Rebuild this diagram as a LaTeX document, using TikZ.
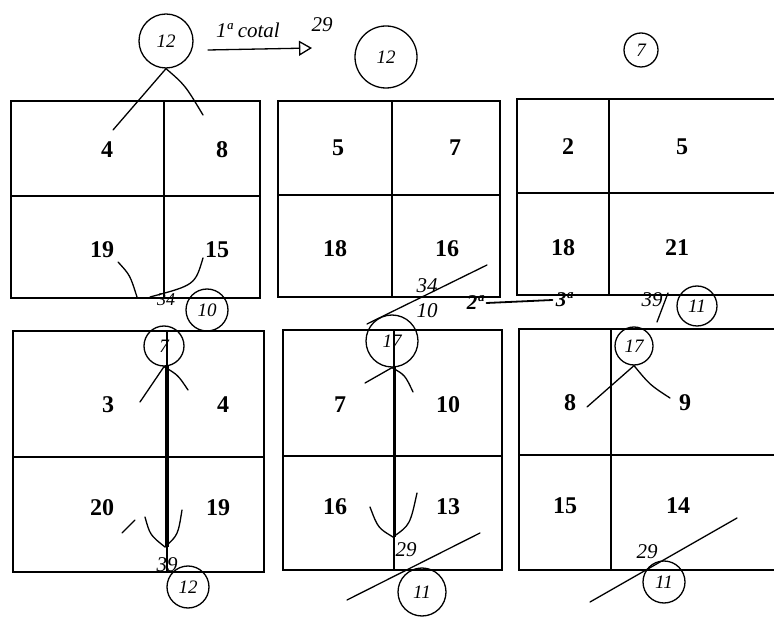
\documentclass[tikz,border=0pt]{standalone}
\usepackage{fontspec}
\setmainfont{Liberation Serif}
\usetikzlibrary{arrows.meta}
\tikzset{
  caja/.style={line width=2.6pt},
  num/.style={font=\fontsize{24}{24}\selectfont\bfseries},
  pen/.style={line width=1.3pt, line cap=round},
  mano/.style={font=\fontsize{21}{21}\selectfont\itshape},
  ring/.style={draw, circle, line width=1.3pt, inner sep=0pt, font=\fontsize{19}{19}\selectfont\itshape}
}
\begin{document}
\begin{tikzpicture}[x=1pt,y=-1pt]
  \useasboundingbox (0,0) rectangle (774,617);
  \clip (0,0) rectangle (774,617);
  \fill[white] (0,0) rectangle (774,617);

  \draw[caja] (11,101) rectangle (260,298) (164,101) -- (164,298) (11,196) -- (260,196);
  \draw[caja] (278,101) rectangle (500,297) (392,101) -- (392,297) (278,195) -- (500,195);
  \draw[caja] (517,99) rectangle (800,295) (609,99) -- (609,295) (517,193) -- (800,193);
  \draw[caja] (13,331) rectangle (264,572) (167,331) -- (167,572) (13,457) -- (264,457);
  \draw[caja] (283,330) rectangle (502,570) (394,330) -- (394,570) (283,456) -- (502,456);
  \draw[caja] (519,329) rectangle (800,570) (611,329) -- (611,570) (519,455) -- (800,455);

  \node[num] (a1) at (107,150) {4};
  \node[num] (a2) at (222,150) {8};
  \node[num] (a3) at (102,250) {19};
  \node[num] (a4) at (217,250) {15};
  \node[num] (b1) at (338,148) {5};
  \node[num] (b2) at (455,148) {7};
  \node[num] (b3) at (335,249) {18};
  \node[num] (b4) at (447,249) {16};
  \node[num] (c1) at (568,147) {2};
  \node[num] (c2) at (682,147) {5};
  \node[num] (c3) at (563,248) {18};
  \node[num] (c4) at (677,248) {21};
  \node[num] (d1) at (108,405) {3};
  \node[num] (d2) at (223,405) {4};
  \node[num] (d3) at (102,508) {20};
  \node[num] (d4) at (218,508) {19};
  \node[num] (e1) at (340,405) {7};
  \node[num] (e2) at (448,405) {10};
  \node[num] (e3) at (335,507) {16};
  \node[num] (e4) at (448,507) {13};
  \node[num] (f1) at (570,403) {8};
  \node[num] (f2) at (685,403) {9};
  \node[num] (f3) at (565,506) {15};
  \node[num] (f4) at (678,506) {14};

  \node[ring, minimum size=54pt] (topA) at (166,41) {12};
  \node[mano] (costal) at (248,30) {1ª cotal};
  \node[mano] (tot) at (322,25) {29};
  \coordinate (arrS) at (208,50);
  \coordinate (arrE) at (312,48);
  \draw[pen, -{Triangle[open, length=13pt, width=15pt]}] (arrS) -- (arrE);
  \node[ring, minimum size=62pt] (topB) at (386,57) {12};
  \node[ring, minimum size=34pt] (topC) at (641,50) {7};
  \draw[pen] (topA.south) -- (113,130);
  \draw[pen] (topA.south) .. controls (185,85) .. (203,115);

  \draw[pen] (118,262) .. controls (130,275) .. (137,297);
  \draw[pen] (203,258) .. controls (195,285) .. (150,297);
  \node[mano, inner sep=0pt, font=\fontsize{18}{18}\selectfont\itshape] (sA) at (166,300) {34};
  \node[ring, minimum size=42pt] (rA) at (207,310) {10};

  \node[mano] (sB) at (427,286) {34};
  \node[mano] (rB) at (427,311) {10};
  \draw[pen] (367,324) -- (487,265);
  \node[mano, font=\fontsize{21}{21}\selectfont\bfseries\itshape] (n2a) at (475,303) {2ª};
  \node[mano, font=\fontsize{21}{21}\selectfont\bfseries\itshape] (n3a) at (564,300) {3ª};
  \draw[pen, line width=1.8pt] (n2a.east) -- (n3a.west);

  \node[mano] (sC) at (652,300) {39};
  \draw[pen] (668,293) -- (657,322);
  \node[ring, minimum size=40pt] (rC) at (697,306) {11};

  \node[ring, minimum size=40pt] (tD) at (164,346) {7};
  \draw[pen] (140,402) -- (tD.south) .. controls (178,375) .. (188,390);
  \draw[pen, line width=3.1pt, line cap=butt] (167,366) -- (167,547);
  \draw[pen] (145,517) .. controls (150,535) .. (165,547) .. controls (178,535) .. (182,510);
  \draw[pen] (122,533) -- (135,520);
  \node[mano] (sD) at (167,565) {39};
  \node[ring, minimum size=42pt] (rD) at (188,587) {12};

  \node[ring, minimum size=52pt] (tE) at (392,341) {17};
  \draw[pen] (365,383) -- (tE.south) .. controls (405,375) .. (413,392);
  \draw[pen, line width=3pt, line cap=butt] (394,367) -- (394,537);
  \draw[pen] (370,507) .. controls (378,528) .. (393,537) .. controls (410,525) .. (417,493);
  \node[mano] (sE) at (406,550) {29};
  \draw[pen] (347,600) -- (480,533);
  \node[ring, minimum size=48pt] (rE) at (422,592) {11};

  \node[ring, minimum size=38pt] (tF) at (634,346) {17};
  \draw[pen] (587,407) -- (tF.south) .. controls (650,385) .. (670,398);
  \node[mano] (sF) at (647,552) {29};
  \draw[pen] (590,602) -- (737,518);
  \node[ring, minimum size=42pt] (rF) at (664,582) {11};
\end{tikzpicture}
\end{document}
